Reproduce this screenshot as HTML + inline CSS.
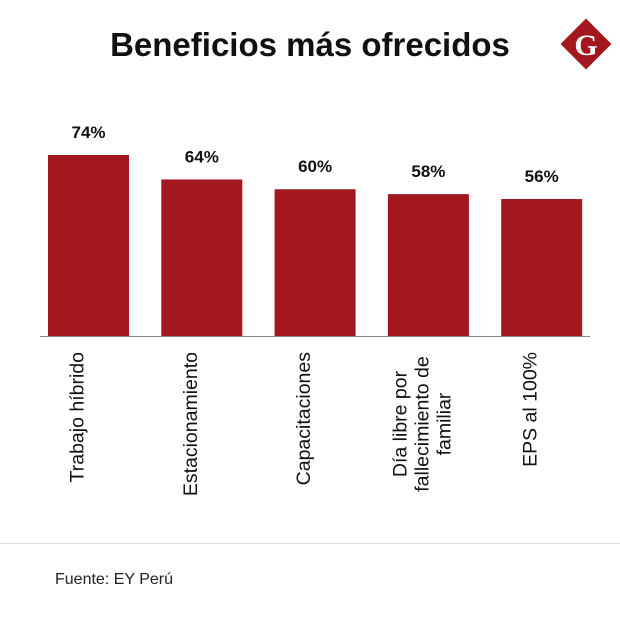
<!DOCTYPE html>
<html><head><meta charset="utf-8"><style>
body{margin:0;background:#fff;font-family:"Liberation Sans",sans-serif}
</style></head><body>
<svg width="620" height="616" xmlns="http://www.w3.org/2000/svg">
<text x="310" y="56" text-anchor="middle" font-family="Liberation Sans" font-weight="bold" font-size="33" fill="#111">Beneficios más ofrecidos</text>
<g>
<rect x="568" y="26" width="36" height="36" fill="#a3181f" transform="rotate(45 586 44)"/>
<text x="586" y="55" text-anchor="middle" font-family="Liberation Serif" font-weight="bold" font-size="30" fill="#fff">G</text>
</g>
<g id="bars"></g>
<line x1="40" y1="336.5" x2="590" y2="336.5" stroke="#888" stroke-width="1"/>
<line x1="0" y1="543.5" x2="620" y2="543.5" stroke="#ddd" stroke-width="1"/>
<text x="55" y="584" font-family="Liberation Sans" font-size="16" fill="#222">Fuente: EY Perú</text>
</svg>
<script>
const categories=[["Trabajo híbrido"],["Estacionamiento"],["Capacitaciones"],["Día libre por","fallecimiento de","familiar"],["EPS al 100%"]];
const values=[74,64,60,58,56];
const labels=["74%","64%","60%","58%","56%"];
const NS="http://www.w3.org/2000/svg";
const g=document.getElementById('bars');
const base=336, scale=2.446, x0=48, step=113.3, bw=81;
const y=v=>base-v*scale;
const x=i=>x0+i*step;
values.forEach((v,i)=>{
  const r=document.createElementNS(NS,'rect');
  r.setAttribute('x',x(i));r.setAttribute('y',y(v));
  r.setAttribute('width',bw);r.setAttribute('height',base-y(v));
  r.setAttribute('fill','#a3181f');
  
  
  g.appendChild(r);
  const t=document.createElementNS(NS,'text');
  t.setAttribute('x',x(i)+bw/2);t.setAttribute('y',y(v)-17);
  t.setAttribute('text-anchor','middle');t.setAttribute('font-weight','bold');
  t.setAttribute('font-size','17');t.setAttribute('fill','#111');
  t.textContent=labels[i];
  
  
  g.appendChild(t);
  const lines=categories[i];
  const cx=x(i)+bw/2;
  const multi=lines.length>1;
  lines.forEach((ln,j)=>{
    const tt=document.createElementNS(NS,'text');
    const lx=multi?cx+(j-(lines.length-1)/2)*22:cx-5;
    const ly=multi?424:352;
    tt.setAttribute('x',0);tt.setAttribute('y',0);
    tt.setAttribute('transform','translate('+lx+','+ly+') rotate(-90)');
    tt.setAttribute('text-anchor',multi?'middle':'end');
    tt.setAttribute('font-size','19.5');tt.setAttribute('fill','#111');
    tt.textContent=ln;
    
    
    g.appendChild(tt);
  });
});
</script>
</body></html>
